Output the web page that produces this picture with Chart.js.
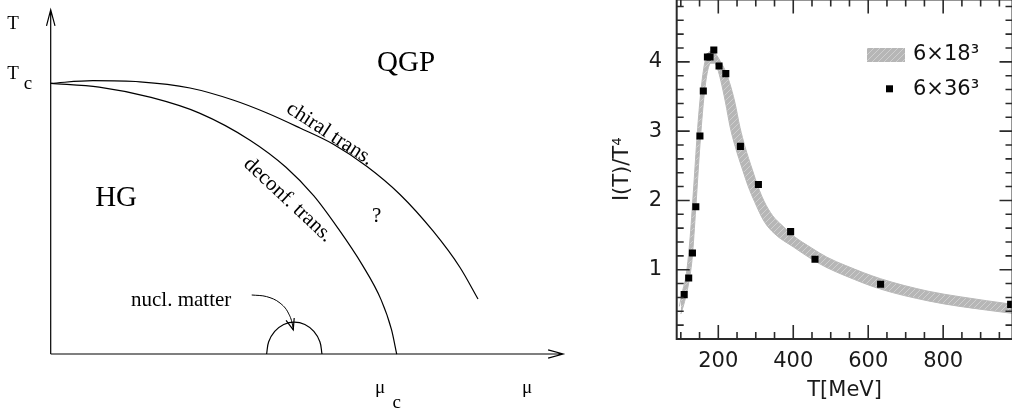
<!DOCTYPE html>
<html><head><meta charset="utf-8">
<script src="https://cdn.jsdelivr.net/npm/chart.js@4.4.0/dist/chart.umd.min.js"></script>
<style>
html,body{margin:0;padding:0;background:#fff;overflow:hidden;width:1012px;height:412px;position:relative;}
#left{position:absolute;left:0;top:0;width:590px;height:412px;}
#right{position:absolute;left:590px;top:-10px;width:430px;height:422px;}
</style></head><body>
<div id="left"><canvas id="c1"></canvas></div>
<div id="right"><canvas id="c2"></canvas></div>
<script>
// ---------- Right panel: interaction measure I(T)/T^4 ----------
const seriesNames = ['6×18³', '6×36³'];
const latticeT = [109, 121, 131, 140, 151, 160, 171, 178, 188, 202, 220, 259, 307, 393, 458, 633, 980];
const latticeI = [0.64, 0.88, 1.24, 1.91, 2.93, 3.58, 4.07, 4.07, 4.17, 3.94, 3.83, 2.78, 2.23, 1.55, 1.15, 0.79, 0.50];
const bandUpperT = [96, 105, 115, 125, 135, 145, 155, 165, 175, 185, 195, 206, 218, 230, 244, 258, 271, 291, 306, 322, 345, 370, 400, 450, 490, 540, 633, 760, 845, 985];
const bandUpperI = [0.47, 0.70, 0.95, 1.48, 2.25, 3.05, 3.65, 4.02, 4.14, 4.16, 4.10, 4.00, 3.88, 3.70, 3.42, 3.05, 2.78, 2.44, 2.20, 1.99, 1.78, 1.64, 1.49, 1.31, 1.18, 1.06, 0.87, 0.69, 0.61, 0.50];
const bandLowerT = [100, 110, 120, 130, 140, 150, 160, 170, 180, 190, 198, 207, 219, 232, 245, 265, 280, 297, 322, 350, 400, 450, 490, 540, 633, 760, 845, 985];
const bandLowerI = [0.36, 0.54, 0.78, 1.15, 1.90, 2.72, 3.40, 3.83, 3.98, 3.98, 3.90, 3.72, 3.42, 3.05, 2.78, 2.44, 2.20, 1.98, 1.70, 1.52, 1.33, 1.15, 1.03, 0.91, 0.72, 0.55, 0.47, 0.37];
const xMajorTicks = [200, 400, 600, 800];
const xMinorTicks = [100, 150, 250, 300, 350, 450, 500, 550, 650, 700, 750, 850, 900, 950];
const yMajorTicks = [1, 2, 3, 4];
const yMinorTicks = [0.2, 0.4, 0.6, 0.8, 1.2, 1.4, 1.6, 1.8, 2.2, 2.4, 2.6, 2.8, 3.2, 3.4, 3.6, 3.8, 4.2, 4.4, 4.6, 4.8];

// ---------- Left panel: QCD phase diagram sketch ----------
const chiralMu = [0, 0.1222, 0.258, 0.4026, 0.5269, 0.6251, 0.7205, 0.8159, 0.9142, 1.0095, 1.1049, 1.183, 1.235];
const chiralT  = [1.0, 1.0096, 1.0055, 0.9826, 0.9383, 0.8903, 0.8349, 0.7758, 0.6926, 0.5893, 0.4544, 0.3196, 0.2031];
const deconfMu = [0, 0.14, 0.29, 0.43, 0.576, 0.68, 0.76, 0.83, 0.90, 0.955, 0.985, 1.0];
const deconfT  = [1.0, 0.986, 0.948, 0.89, 0.79, 0.69, 0.585, 0.465, 0.33, 0.2, 0.09, 0];
const nuclMu = [0.784, 0.778, 0.7606, 0.7346, 0.704, 0.6734, 0.6474, 0.630, 0.624];
const nuclT  = [0, 0.045, 0.0834, 0.109, 0.118, 0.109, 0.0834, 0.045, 0];
const arrowMu = [0.581, 0.624, 0.663, 0.687, 0.699, 0.701];
const arrowT  = [0.218, 0.212, 0.188, 0.151, 0.107, 0.089];

const zip = (xs, ys) => xs.map((x, i) => ({x, y: ys[i]}));

// ---------- Left chart ----------
const serif = 'Liberation Serif, Times New Roman, serif';
const phaseDecor = {
  id: 'phaseDecor',
  afterDraw(chart) {
    const {ctx, scales: {x, y}} = chart;
    const X = v => x.getPixelForValue(v), Y = v => y.getPixelForValue(v);
    ctx.save();
    ctx.strokeStyle = '#000'; ctx.lineWidth = 1.2;
    const ox = X(0), oy = Y(0), topY = Y(1.271), endX = X(1.481);
    ctx.beginPath();
    ctx.moveTo(ox, oy); ctx.lineTo(ox, topY);
    ctx.moveTo(ox, oy); ctx.lineTo(endX, oy);
    ctx.moveTo(ox - 4.2, topY + 16); ctx.lineTo(ox, topY); ctx.lineTo(ox + 4.3, topY + 16);
    ctx.moveTo(endX - 15, oy - 4.2); ctx.lineTo(endX, oy); ctx.lineTo(endX - 15, oy + 4.2);
    const n = arrowMu.length;
    const tx = X(arrowMu[n - 1]), ty = Y(arrowT[n - 1]);
    const px = X(arrowMu[n - 3]), py = Y(arrowT[n - 3]);
    const ang = Math.atan2(ty - py, tx - px);
    const L = 12, h = 0.36;
    ctx.moveTo(tx + L * Math.cos(ang + Math.PI - h), ty + L * Math.sin(ang + Math.PI - h));
    ctx.lineTo(tx, ty);
    ctx.lineTo(tx + L * Math.cos(ang + Math.PI + h), ty + L * Math.sin(ang + Math.PI + h));
    ctx.stroke();

    ctx.fillStyle = '#000';
    ctx.textAlign = 'center'; ctx.textBaseline = 'middle';
    const txt = (s, mu, t, size, rot) => {
      ctx.save();
      ctx.font = size + 'px ' + serif;
      ctx.translate(X(mu), Y(t));
      if (rot) ctx.rotate(rot * Math.PI / 180);
      ctx.fillText(s, 0, 0);
      ctx.restore();
    };
    txt('HG', 0.189, 0.576, 29);
    txt('QGP', 1.027, 1.075, 29);
    txt('?', 0.942, 0.507, 21);
    txt('chiral trans.', 0.807, 0.813, 21, 33);
    txt('deconf. trans.', 0.686, 0.569, 21, 43);
    txt('nucl. matter', 0.377, 0.196, 21);
    txt('T', -0.109, 1.22, 19);
    txt('T', -0.109, 1.033, 19);
    txt('c', -0.066, 0.999, 19);
    txt('μ', 0.952, -0.124, 19);
    txt('c', 1.0, -0.18, 19);
    txt('μ', 1.377, -0.124, 19);
    ctx.restore();
  }
};

const lineDs = (data, extra) => Object.assign({
  data, borderColor: '#000', borderWidth: 1.2, pointRadius: 0, fill: false,
  cubicInterpolationMode: 'monotone', clip: false
}, extra || {});

new Chart(document.getElementById('c1'), {
  type: 'line',
  data: {
    datasets: [
      lineDs(zip(chiralMu, chiralT)),
      lineDs(zip(deconfMu, deconfT)),
      lineDs(zip(nuclMu, nuclT), {cubicInterpolationMode: 'default', tension: 0.4}),
      lineDs(zip(arrowMu, arrowT), {borderWidth: 1})
    ]
  },
  options: {
    responsive: true, maintainAspectRatio: false, animation: false,
    devicePixelRatio: 1,
    layout: {padding: {left: 50.7, right: 20.3, top: 2.09, bottom: 58}},
    plugins: {legend: {display: false}, tooltip: {enabled: false}},
    events: [],
    scales: {
      x: {type: 'linear', min: 0, max: 1.5, display: false},
      y: {type: 'linear', min: 0, max: 1.3, display: false}
    }
  },
  plugins: [phaseDecor]
});

// ---------- Right chart ----------
const bandPattern = (() => {
  const c = document.createElement('canvas'); c.width = 6; c.height = 6;
  const g = c.getContext('2d');
  g.fillStyle = '#b6b6b6'; g.fillRect(0, 0, 6, 6);
  g.strokeStyle = '#cfcfcf'; g.lineWidth = 1;
  g.beginPath(); g.moveTo(-1, 7); g.lineTo(7, -1); g.stroke();
  return g.createPattern(c, 'repeat');
})();

const sansFont = 'DejaVu Sans, sans-serif';
const frameTicks = {
  id: 'frameTicks',
  afterDraw(chart) {
    const {ctx, chartArea: a, scales: {x, y}} = chart;
    ctx.save();
    ctx.strokeStyle = '#2a2a2a'; ctx.lineWidth = 2;
    ctx.strokeRect(a.left, a.top, a.right - a.left, a.bottom - a.top);
    ctx.lineWidth = 1.6;
    ctx.beginPath();
    const xt = (list, len) => list.forEach(v => {
      const p = x.getPixelForValue(v);
      ctx.moveTo(p, a.bottom); ctx.lineTo(p, a.bottom - len);
      ctx.moveTo(p, a.top); ctx.lineTo(p, a.top + len);
    });
    const yt = (list, len) => list.forEach(v => {
      const p = y.getPixelForValue(v);
      ctx.moveTo(a.left, p); ctx.lineTo(a.left + len, p);
      ctx.moveTo(a.right, p); ctx.lineTo(a.right - len, p);
    });
    xt(xMajorTicks, 14); xt(xMinorTicks, 7);
    yt(yMajorTicks, 13); yt(yMinorTicks, 7);
    ctx.stroke();

    const lx = a.left + 190.3, ly = a.top + 48.5;
    ctx.fillStyle = bandPattern;
    ctx.fillRect(lx, ly, 38, 14);
    ctx.fillStyle = '#000';
    ctx.fillRect(lx + 19, ly + 37.3, 7, 7);
    ctx.font = '21px ' + sansFont;
    ctx.textAlign = 'left'; ctx.textBaseline = 'middle';
    ctx.fillStyle = '#111';
    ctx.fillText(seriesNames[0], lx + 46, ly + 7);
    ctx.fillText(seriesNames[1], lx + 46, ly + 42);
    ctx.restore();
  }
};

const zeroPad = s => { s.paddingTop = 0; s.paddingBottom = 0; s.paddingLeft = 0; s.paddingRight = 0; };

new Chart(document.getElementById('c2'), {
  type: 'line',
  data: {
    datasets: [
      {label: seriesNames[1], data: zip(latticeT, latticeI), showLine: false,
       pointStyle: 'rect', pointRadius: 5, pointBackgroundColor: '#000', pointBorderWidth: 0,
       borderColor: '#000'},
      {label: seriesNames[0] + ' upper', data: zip(bandUpperT, bandUpperI), pointRadius: 0,
       borderColor: '#b9b9b9', borderWidth: 1, fill: false, cubicInterpolationMode: 'monotone'},
      {label: seriesNames[0], data: zip(bandLowerT, bandLowerI), pointRadius: 0,
       borderColor: '#b9b9b9', borderWidth: 1, fill: '-1', backgroundColor: bandPattern,
       cubicInterpolationMode: 'monotone'}
    ]
  },
  options: {
    responsive: true, maintainAspectRatio: false, animation: false,
    devicePixelRatio: 1,
    layout: {padding: {left: 0, right: 7.5, top: 9.5, bottom: 0}},
    plugins: {legend: {display: false}, tooltip: {enabled: false}},
    events: [],
    scales: {
      x: {
        type: 'linear', min: 89, max: 985,
        afterFit: s => { s.height = 73; zeroPad(s); },
        afterBuildTicks: s => { s.ticks = xMajorTicks.map(v => ({value: v})); },
        grid: {display: false, drawTicks: false}, border: {display: false},
        ticks: {font: {family: sansFont, size: 21}, color: '#1a1a1a', padding: 10, maxRotation: 0},
        title: {display: true, text: 'T[MeV]', font: {family: sansFont, size: 21}, color: '#1a1a1a',
                padding: {top: 0, bottom: 8.4}}
      },
      y: {
        type: 'linear', min: 0, max: 4.9,
        afterFit: s => { s.width = 86.7; zeroPad(s); },
        afterBuildTicks: s => { s.ticks = yMajorTicks.map(v => ({value: v})); },
        grid: {display: false, drawTicks: false}, border: {display: false},
        ticks: {font: {family: sansFont, size: 21}, color: '#1a1a1a', padding: 14.7},
        title: {display: true, text: 'I(T)/T⁴', font: {family: sansFont, size: 21}, color: '#1a1a1a',
                padding: {top: 20, bottom: 0}}
      }
    }
  },
  plugins: [frameTicks]
});
</script>
</body></html>
